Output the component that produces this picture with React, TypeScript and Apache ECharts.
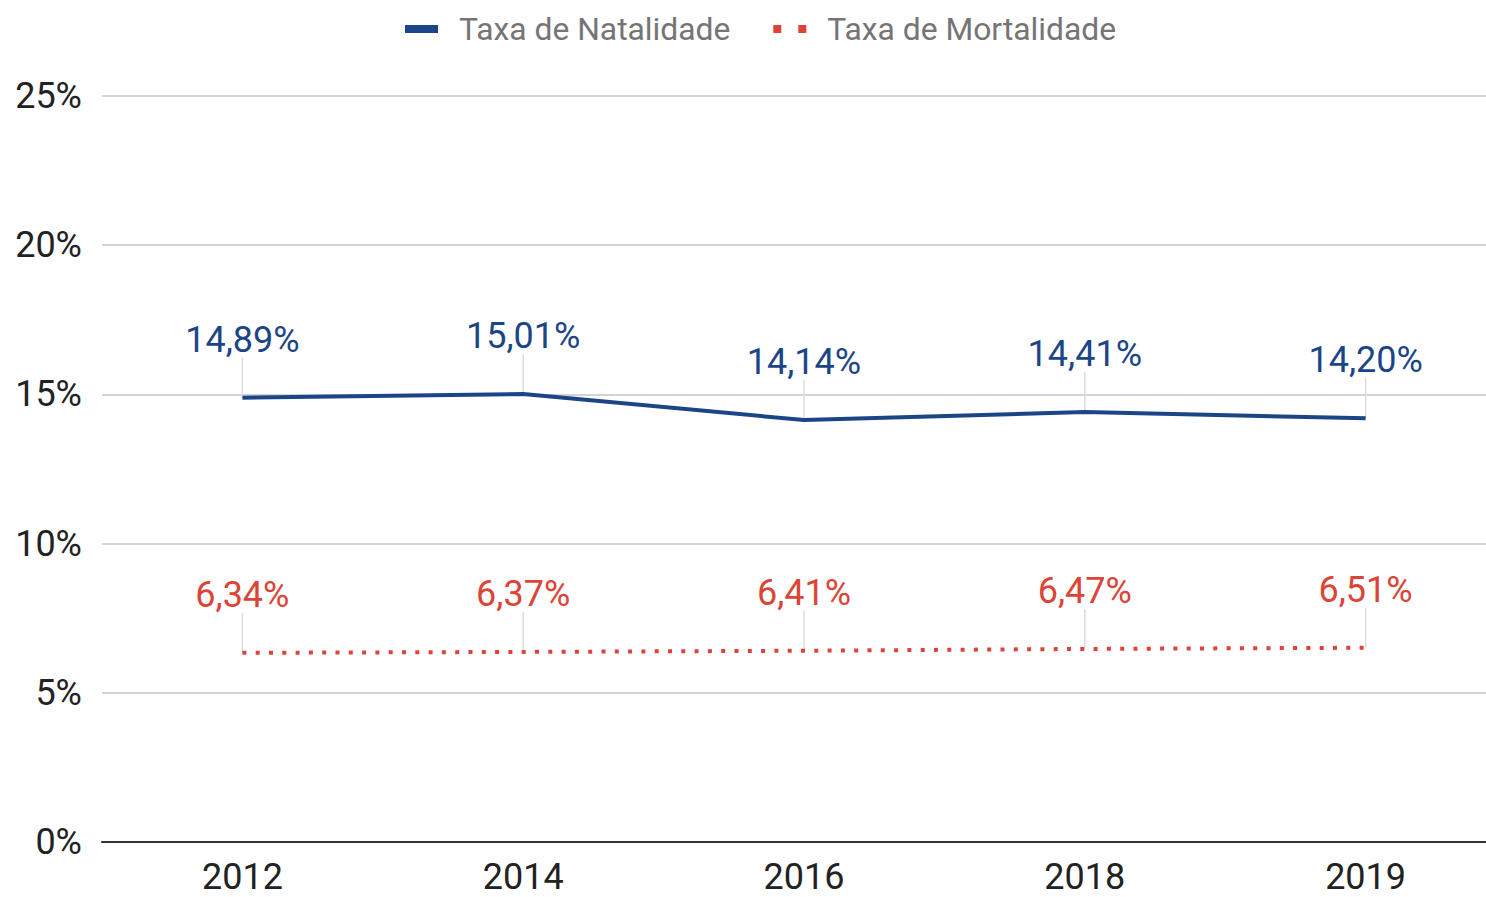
import React, { useEffect, useRef } from "react";
import * as echarts from "echarts";

const years = ["2012", "2014", "2016", "2018", "2019"];
const natalidade = [14.89, 15.01, 14.14, 14.41, 14.2];
const mortalidade = [6.34, 6.37, 6.41, 6.47, 6.51];
const yTicks = { min: 0, max: 25, interval: 5 };

const BLUE = "#1c4587";
const RED = "#dc4437";
const FONT = "Roboto";

const fmt = (v: number) => v.toFixed(2).replace(".", ",") + "%";

const leaderSeries = (name: string, values: number[]) => ({
  type: "custom",
  name: name + "-leader",
  silent: true,
  z: 1,
  clip: false,
  data: values.map((v, i) => [i, v]),
  renderItem: (_params: any, api: any) => {
    const p = api.coord([api.value(0), api.value(1)]);
    return {
      type: "line",
      shape: { x1: p[0], y1: p[1], x2: p[0], y2: p[1] - 40 },
      style: { stroke: "#dcdcdc", lineWidth: 1.5 },
    };
  },
});

export default function App() {
  const ref = useRef<HTMLDivElement>(null);
  useEffect(() => {
    if (!ref.current) return;
    const chart = echarts.init(ref.current, null, { renderer: "svg" });
    chart.setOption({
      animation: false,
      textStyle: { fontFamily: FONT },
      legend: {
        top: 8,
        left: 400,
        itemGap: 43,
        itemWidth: 33,
        itemHeight: 8,
        textStyle: {
          fontFamily: FONT,
          fontSize: 31.8,
          color: "#757575",
          padding: [0, 0, 0, 16],
        },
        data: [
          { name: "Taxa de Natalidade", icon: "rect" },
          {
            name: "Taxa de Mortalidade",
            icon: "path://M0,0h8v8h-8z M25,0h8v8h-8z",
          },
        ],
      },
      grid: { left: 102, right: 0, top: 96, bottom: 55, containLabel: false },
      xAxis: {
        type: "category",
        data: years,
        boundaryGap: true,
        axisLine: { lineStyle: { color: "#333", width: 2 } },
        axisTick: { show: false },
        axisLabel: {
          fontFamily: FONT,
          fontSize: 36,
          color: "#222",
          margin: 17,
        },
      },
      yAxis: {
        type: "value",
        min: yTicks.min,
        max: yTicks.max,
        interval: yTicks.interval,
        axisLine: { show: false },
        axisTick: { show: false },
        splitLine: { lineStyle: { color: "#d3d3d3", width: 2 } },
        axisLabel: {
          fontFamily: FONT,
          fontSize: 36,
          color: "#222",
          margin: 20,
          formatter: "{value}%",
        },
      },
      series: [
        leaderSeries("nat", natalidade),
        leaderSeries("mort", mortalidade),
        {
          name: "Taxa de Natalidade",
          type: "line",
          data: natalidade,
          z: 3,
          symbol: "circle",
          symbolSize: 0,
          showSymbol: true,
          lineStyle: { color: BLUE, width: 4 },
          itemStyle: { color: BLUE },
          label: {
            show: true,
            position: "top",
            distance: 40,
            fontFamily: FONT,
            fontSize: 36,
            color: BLUE,
            formatter: (p: any) => fmt(p.value),
          },
        },
        {
          name: "Taxa de Mortalidade",
          type: "line",
          data: mortalidade,
          z: 3,
          symbol: "circle",
          symbolSize: 0,
          showSymbol: true,
          lineStyle: { color: RED, width: 4, type: [4, 9.3], cap: "butt" },
          itemStyle: { color: RED },
          label: {
            show: true,
            position: "top",
            distance: 40,
            fontFamily: FONT,
            fontSize: 36,
            color: RED,
            formatter: (p: any) => fmt(p.value),
          },
        },
      ],
    });
    return () => chart.dispose();
  }, []);
  return (
    <div
      style={{
        position: "absolute",
        left: 0,
        top: 0,
        width: 1486,
        height: 897,
        overflow: "hidden",
      }}
    >
      <div ref={ref} style={{ width: 1506, height: 897 }} />
    </div>
  );
}
